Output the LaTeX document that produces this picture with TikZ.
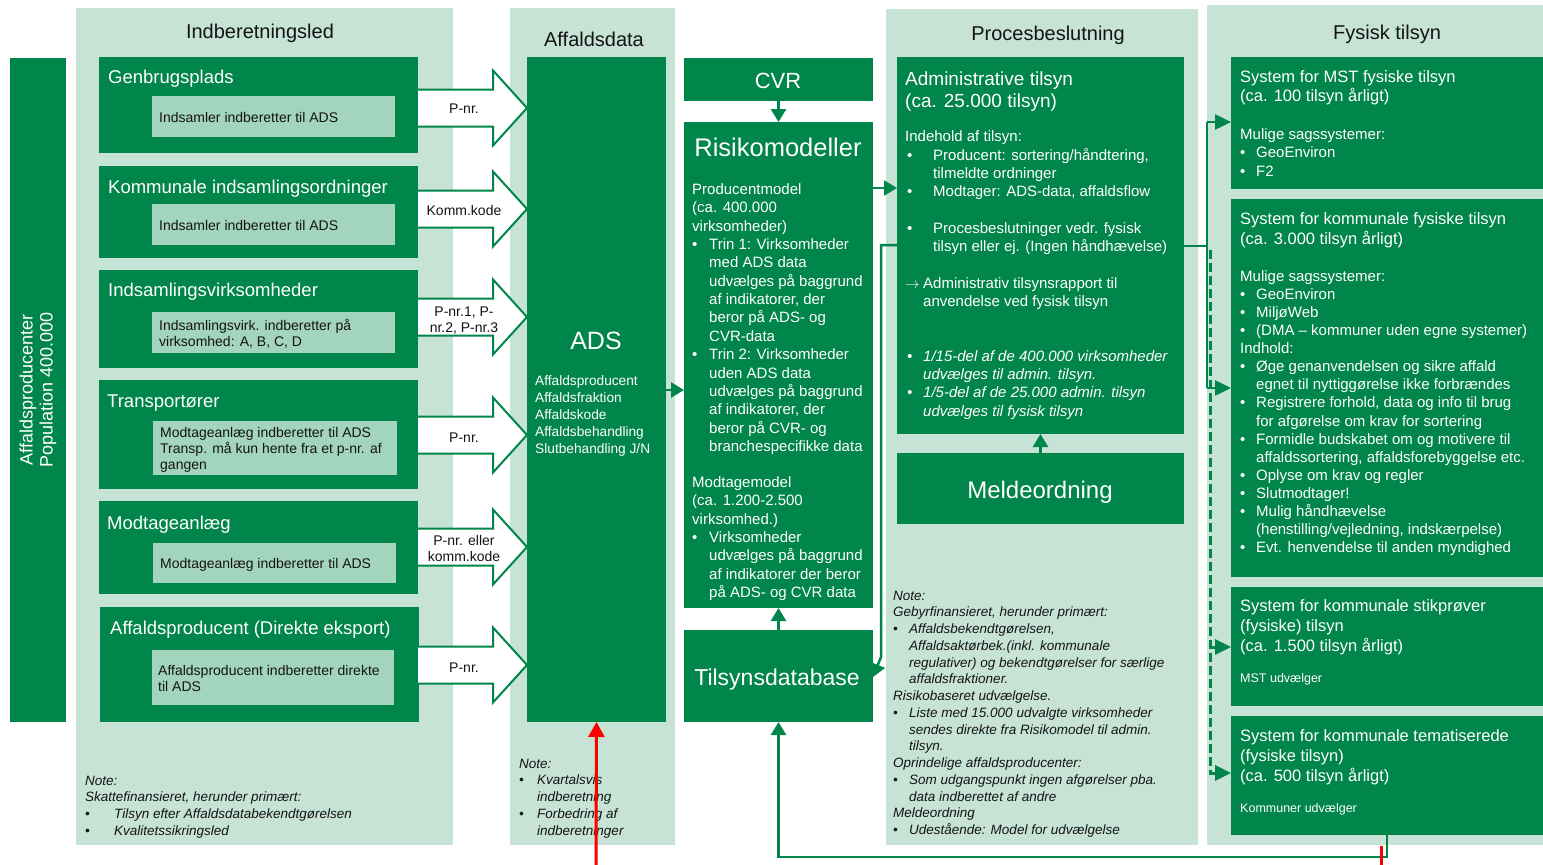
\documentclass[tikz,border=0pt]{standalone}
\usepackage{fontspec}
\setmainfont{Liberation Sans}
\usetikzlibrary{arrows.meta,calc}
\definecolor{dg}{HTML}{00854A}
\definecolor{lg}{HTML}{C6E3D6}
\definecolor{ig}{HTML}{A3D4BE}
\definecolor{tx}{HTML}{141414}
\newcommand\fsz[2]{\fontsize{#1}{#2}\selectfont}
\newcommand\bl[1]{\makebox[#1][l]{\textbullet}}
\newcommand\hs[1]{\hspace*{#1}}
\begin{document}
\begin{tikzpicture}[x=1pt,y=-1pt,
  box/.style={inner sep=0pt, outer sep=0pt, anchor=north west},
  panel/.style={box, fill=lg},
  dbox/.style={box, fill=dg},
  ibox/.style={box, fill=ig},
  ptitle/.style={inner sep=0pt, anchor=base, font=\fsz{20}{24}, text=tx},
  btitle/.style={inner sep=0pt, anchor=base west, font=\fsz{18.5}{22}, text=white},
  itxt/.style={inner sep=0pt, anchor=base west, align=left, font=\fsz{14}{16.3}, text=tx},
  alab/.style={inner sep=0pt, anchor=base, align=center, font=\fsz{14}{16}, text=tx},
  wtxt/.style={inner sep=0pt, anchor=base west, align=left, text=white},
  wbig/.style={inner sep=0pt, anchor=base, align=center, text=white},
  note/.style={inner sep=0pt, anchor=base west, align=left, font=\fsz{13.5}{16.75}\itshape, text=tx},
  barr/.style={draw=dg, fill=white, line width=2pt, line join=miter},
  conn/.style={draw=dg, line width=2.5pt, -{Triangle[width=15pt,length=13pt]}},
  fconn/.style={draw=dg, line width=2.5pt, -{Triangle[width=15pt,length=16pt]}},
  line/.style={draw=dg, line width=2.5pt},
  dconn/.style={draw=dg, line width=3pt, dash pattern=on 9pt off 4pt, -{Triangle[width=15pt,length=16pt]}},
  redarr/.style={draw=red, line width=3pt, -{Triangle[width=16pt,length=15pt]}}
]
\useasboundingbox (0,0) rectangle (1543,865);

% (multi-line text nodes are placed by the baseline of their LAST line)

% ---------- panels ----------
\node[panel, minimum width=377pt, minimum height=837pt] (pind) at (76,8) {};
\node[panel, minimum width=165pt, minimum height=837pt] (pads) at (510,8) {};
\node[panel, minimum width=312pt, minimum height=836pt] (pproc) at (886,9) {};
\node[panel, minimum width=336pt, minimum height=840pt] (pfys) at (1207,5) {};

\node[ptitle] (tind) at (260,38) {Indberetningsled};
\node[ptitle] (tads) at (594,46) {Affaldsdata};
\node[ptitle] (tproc) at (1048,40) {Procesbeslutning};
\node[ptitle] (tfys) at (1387,39) {Fysisk tilsyn};

% ---------- left bar ----------
\node[dbox, minimum width=56pt, minimum height=664pt] (bar) at (10,58) {};
\node[inner sep=0pt, rotate=90, align=center, text=white, font=\fsz{18}{20}] (bartxt) at (38,390) {Affaldsproducenter\\Population 400.000};

% ---------- Indberetningsled boxes ----------
\node[dbox, minimum width=319pt, minimum height=96pt] (gen) at (99,57) {};
\node[ibox, minimum width=243pt, minimum height=41pt] (geni) at (152,96) {};
\node[btitle] (gent) at (108,83) {Genbrugsplads};
\node[itxt] (genx) at (159,122) {Indsamler indberetter til ADS};

\node[dbox, minimum width=319pt, minimum height=92pt] (kom) at (99,166) {};
\node[ibox, minimum width=243pt, minimum height=41pt] (komi) at (152,204) {};
\node[btitle] (komt) at (108,193) {Kommunale indsamlingsordninger};
\node[itxt] (komx) at (159,230) {Indsamler indberetter til ADS};

\node[dbox, minimum width=319pt, minimum height=98pt] (ins) at (99,270) {};
\node[ibox, minimum width=243pt, minimum height=41pt] (insi) at (152,312) {};
\node[btitle] (inst) at (108,296) {Indsamlingsvirksomheder};
\node[itxt] (insx) at (159,346.3) {Indsamlingsvirk. indberetter på\\virksomhed: A, B, C, D};

\node[dbox, minimum width=319pt, minimum height=109pt] (tra) at (99,380) {};
\node[ibox, minimum width=244pt, minimum height=54pt] (trai) at (153,421) {};
\node[btitle] (trat) at (107,407) {Transportører};
\node[itxt] (trax) at (160,469.6) {Modtageanlæg indberetter til ADS\\Transp. må kun hente fra et p-nr. af\\gangen};

\node[dbox, minimum width=319pt, minimum height=93pt] (mod) at (99,501) {};
\node[ibox, minimum width=243pt, minimum height=40pt] (modi) at (153,543) {};
\node[btitle] (modt) at (107,529) {Modtageanlæg};
\node[itxt] (modx) at (160,568) {Modtageanlæg indberetter til ADS};

\node[dbox, minimum width=319pt, minimum height=115pt] (aff) at (100,607) {};
\node[ibox, minimum width=242pt, minimum height=55pt] (affi) at (152,650) {};
\node[btitle] (afft) at (110,634) {Affaldsproducent (Direkte eksport)};
\node[itxt] (affx) at (158,691.3) {Affaldsproducent indberetter direkte\\til ADS};

\node[note] (indnote) at (85,835.25) {Note:\\Skattefinansieret, herunder primært:\\\bl{29pt}Tilsyn efter Affaldsdatabekendtgørelsen\\\bl{29pt}Kvalitetssikringsled};

% ---------- ADS ----------
\node[dbox, minimum width=139pt, minimum height=665pt] (ads) at (527,57) {};
\node[wbig, font=\fsz{25}{30}] (adst) at (596,349) {ADS};
\node[wtxt, font=\fsz{13.7}{17}] (adsx) at (535,453) {Affaldsproducent\\Affaldsfraktion\\Affaldskode\\Affaldsbehandling\\Slutbehandling J/N};
\node[note] (adsnote) at (519,835) {Note:\\\bl{18pt}Kvartalsvis\\\hs{18pt}indberetning\\\bl{18pt}Forbedring af\\\hs{18pt}indberetninger};

% ---------- block arrows ----------
\newcommand\barrow[1]{%
  \draw[barr] ($(gen.east |- 0,#1)+(0,-18.5)$) -- ++(75,0) -- ++(0,-19) -- (ads.west |- 0,#1)
    -- ($(gen.east |- 0,#1)+(75,37.5)$) -- ++(0,-19) -- ($(gen.east |- 0,#1)+(0,18.5)$);}
\barrow{108}
\barrow{209}
\barrow{317}
\barrow{435}
\barrow{547}
\barrow{665}
\node[alab] (la1) at (464,113) {P-nr.};
\node[alab] (la2) at (464,215) {Komm.kode};
\node[alab] (la3) at (464,332) {P-nr.1, P-\\nr.2, P-nr.3};
\node[alab] (la4) at (464,442) {P-nr.};
\node[alab] (la5) at (464,561) {P-nr. eller\\komm.kode};
\node[alab] (la6) at (464,672) {P-nr.};

% ---------- CVR / Risiko / Tilsyn ----------
\node[dbox, minimum width=189pt, minimum height=43pt] (cvr) at (684,58) {};
\node[wbig, font=\fsz{22}{26}] (cvrt) at (778,88) {CVR};
\node[dbox, minimum width=189pt, minimum height=486pt] (risk) at (684,122) {};
\node[wbig, font=\fsz{25.5}{30}] (riskt) at (778,156) {Risikomodeller};
\node[wtxt, font=\fsz{15}{18.35}] (riskx) at (692,451.4) {Producentmodel\\(ca. 400.000\\virksomheder)\\
\bl{17pt}Trin 1: Virksomheder\\\hs{17pt}med ADS data\\\hs{17pt}udvælges på baggrund\\\hs{17pt}af indikatorer, der\\\hs{17pt}beror på ADS- og\\\hs{17pt}CVR-data\\
\bl{17pt}Trin 2: Virksomheder\\\hs{17pt}uden ADS data\\\hs{17pt}udvælges på baggrund\\\hs{17pt}af indikatorer, der\\\hs{17pt}beror på CVR- og\\\hs{17pt}branchespecifikke data};
\node[wtxt, font=\fsz{15}{18.35}] (riskx2) at (692,597.6) {Modtagemodel\\(ca. 1.200-2.500\\virksomhed.)\\
\bl{17pt}Virksomheder\\\hs{17pt}udvælges på baggrund\\\hs{17pt}af indikatorer der beror\\\hs{17pt}på ADS- og CVR data};
\node[dbox, minimum width=189pt, minimum height=92pt] (tilsyn) at (684,630) {};
\node[wbig, font=\fsz{23}{28}] (tilsynt) at (777,685) {Tilsynsdatabase};

% ---------- Procesbeslutning ----------
\node[dbox, minimum width=287pt, minimum height=377pt] (admin) at (897,57) {};
\node[wtxt, font=\fsz{19}{22}] (admint) at (905,107) {Administrative tilsyn\\(ca. 25.000 tilsyn)};
\node[wtxt, font=\fsz{15}{18.27}] (adm1) at (905,141.4) {Indehold af tilsyn:};
\node[wtxt, font=\fsz{15}{18.27}] (adm2) at (907,196.9) {\bl{26pt}Producent: sortering/håndtering,\\\hs{26pt}tilmeldte ordninger\\\bl{26pt}Modtager: ADS-data, affaldsflow};
\node[wtxt, font=\fsz{15}{18.27}] (adm3) at (907,251.7) {\bl{26pt}Procesbeslutninger vedr. fysisk\\\hs{26pt}tilsyn eller ej. (Ingen håndhævelse)};
\node[wtxt, font=\fsz{15}{18.27}] (adm4) at (905,306.7) {\makebox[18pt][l]{$\rightarrow$}Administrativ tilsynsrapport til\\\hs{18pt}anvendelse ved fysisk tilsyn};
\node[wtxt, font=\fsz{15}{18.27}\itshape] (adm5) at (907,416.2) {\bl{16pt}1/15-del af de 400.000 virksomheder\\\hs{16pt}udvælges til admin. tilsyn.\\\bl{16pt}1/5-del af de 25.000 admin. tilsyn\\\hs{16pt}udvælges til fysisk tilsyn};

\node[dbox, minimum width=287pt, minimum height=71pt] (meld) at (897,453) {};
\node[wbig, font=\fsz{24}{28}] (meldt) at (1040,498) {Meldeordning};

\node[note] (procnote) at (893,834.5) {Note:\\Gebyrfinansieret, herunder primært:\\
\bl{16pt}Affaldsbekendtgørelsen,\\\hs{16pt}Affaldsaktørbek.(inkl. kommunale\\\hs{16pt}regulativer) og bekendtgørelser for særlige\\\hs{16pt}affaldsfraktioner.\\
Risikobaseret udvælgelse.\\
\bl{16pt}Liste med 15.000 udvalgte virksomheder\\\hs{16pt}sendes direkte fra Risikomodel til admin.\\\hs{16pt}tilsyn.\\
Oprindelige affaldsproducenter:\\
\bl{16pt}Som udgangspunkt ingen afgørelser pba.\\\hs{16pt}data indberettet af andre\\
Meldeordning\\
\bl{16pt}Udestående: Model for udvælgelse};

% ---------- Fysisk tilsyn ----------
\node[dbox, minimum width=312pt, minimum height=132pt] (mst) at (1231,57) {};
\node[wtxt, font=\fsz{16.5}{19.5}] (mstt) at (1240,101.5) {System for MST fysiske tilsyn\\(ca. 100 tilsyn årligt)};
\node[wtxt, font=\fsz{15}{18.3}] (mstx) at (1240,176) {Mulige sagssystemer:\\\bl{16pt}GeoEnviron\\\bl{16pt}F2};

\node[dbox, minimum width=312pt, minimum height=378pt] (kf) at (1231,199) {};
\node[wtxt, font=\fsz{16.5}{20.5}] (kft) at (1240,244.5) {System for kommunale fysiske tilsyn\\(ca. 3.000 tilsyn årligt)};
\node[wtxt, font=\fsz{15}{18.07}] (kfx) at (1240,552.5) {Mulige sagssystemer:\\\bl{16pt}GeoEnviron\\\bl{16pt}MiljøWeb\\\bl{16pt}(DMA – kommuner uden egne systemer)\\Indhold:\\
\bl{16pt}Øge genanvendelsen og sikre affald\\\hs{16pt}egnet til nyttiggørelse ikke forbrændes\\
\bl{16pt}Registrere forhold, data og info til brug\\\hs{16pt}for afgørelse om krav for sortering\\
\bl{16pt}Formidle budskabet om og motivere til\\\hs{16pt}affaldssortering, affaldsforebyggelse etc.\\
\bl{16pt}Oplyse om krav og regler\\\bl{16pt}Slutmodtager!\\
\bl{16pt}Mulig håndhævelse\\\hs{16pt}(henstilling/vejledning, indskærpelse)\\
\bl{16pt}Evt. henvendelse til anden myndighed};

\node[dbox, minimum width=312pt, minimum height=119pt] (stik) at (1231,587) {};
\node[wtxt, font=\fsz{16.5}{20}] (stikt) at (1240,651) {System for kommunale stikprøver\\(fysiske) tilsyn\\(ca. 1.500 tilsyn årligt)};
\node[wtxt, font=\fsz{12.5}{15}] (stikx) at (1240,682.5) {MST udvælger};

\node[dbox, minimum width=312pt, minimum height=119pt] (tema) at (1231,716) {};
\node[wtxt, font=\fsz{16.5}{20}] (temat) at (1240,781) {System for kommunale tematiserede\\(fysiske tilsyn)\\(ca. 500 tilsyn årligt)};
\node[wtxt, font=\fsz{12.5}{15}] (temax) at (1240,812) {Kommuner udvælger};

% ---------- connectors ----------
\draw[conn] (cvr) -- (risk);
\draw[conn] (tilsyn) -- (risk);
\draw[conn] (ads.east |- 0,390) -- (risk.west |- 0,390);
\draw[conn] (risk.east |- 0,188) -- (admin.west |- 0,188);
\draw[conn] (meld) -- (admin);
\draw[conn] (admin.west |- 0,245) -- (881,245) -- (881,657) -- (tilsyn.east |- 0,677);

\draw[line] (admin.east |- 0,246) -- (1207,246);
\draw[line] (1207,122) -- (1207,388);
\draw[fconn] (1207,122) -- (mst.west |- 0,122);
\draw[fconn] (1207,388) -- (kf.west |- 0,388);
\draw[dconn] (1210,250) -- (1210,773) -- (tema.west |- 0,773);
\draw[dconn] (1210,647) -- (stik.west |- 0,647);

\draw[conn] (tema.south) -- ++(0,22) -| (tilsyn.south);

\draw[draw=red, line width=3pt] (1381,846) -- (1381,865);
\draw[redarr] (596,865) -- (ads.south);
\end{tikzpicture}
\end{document}
